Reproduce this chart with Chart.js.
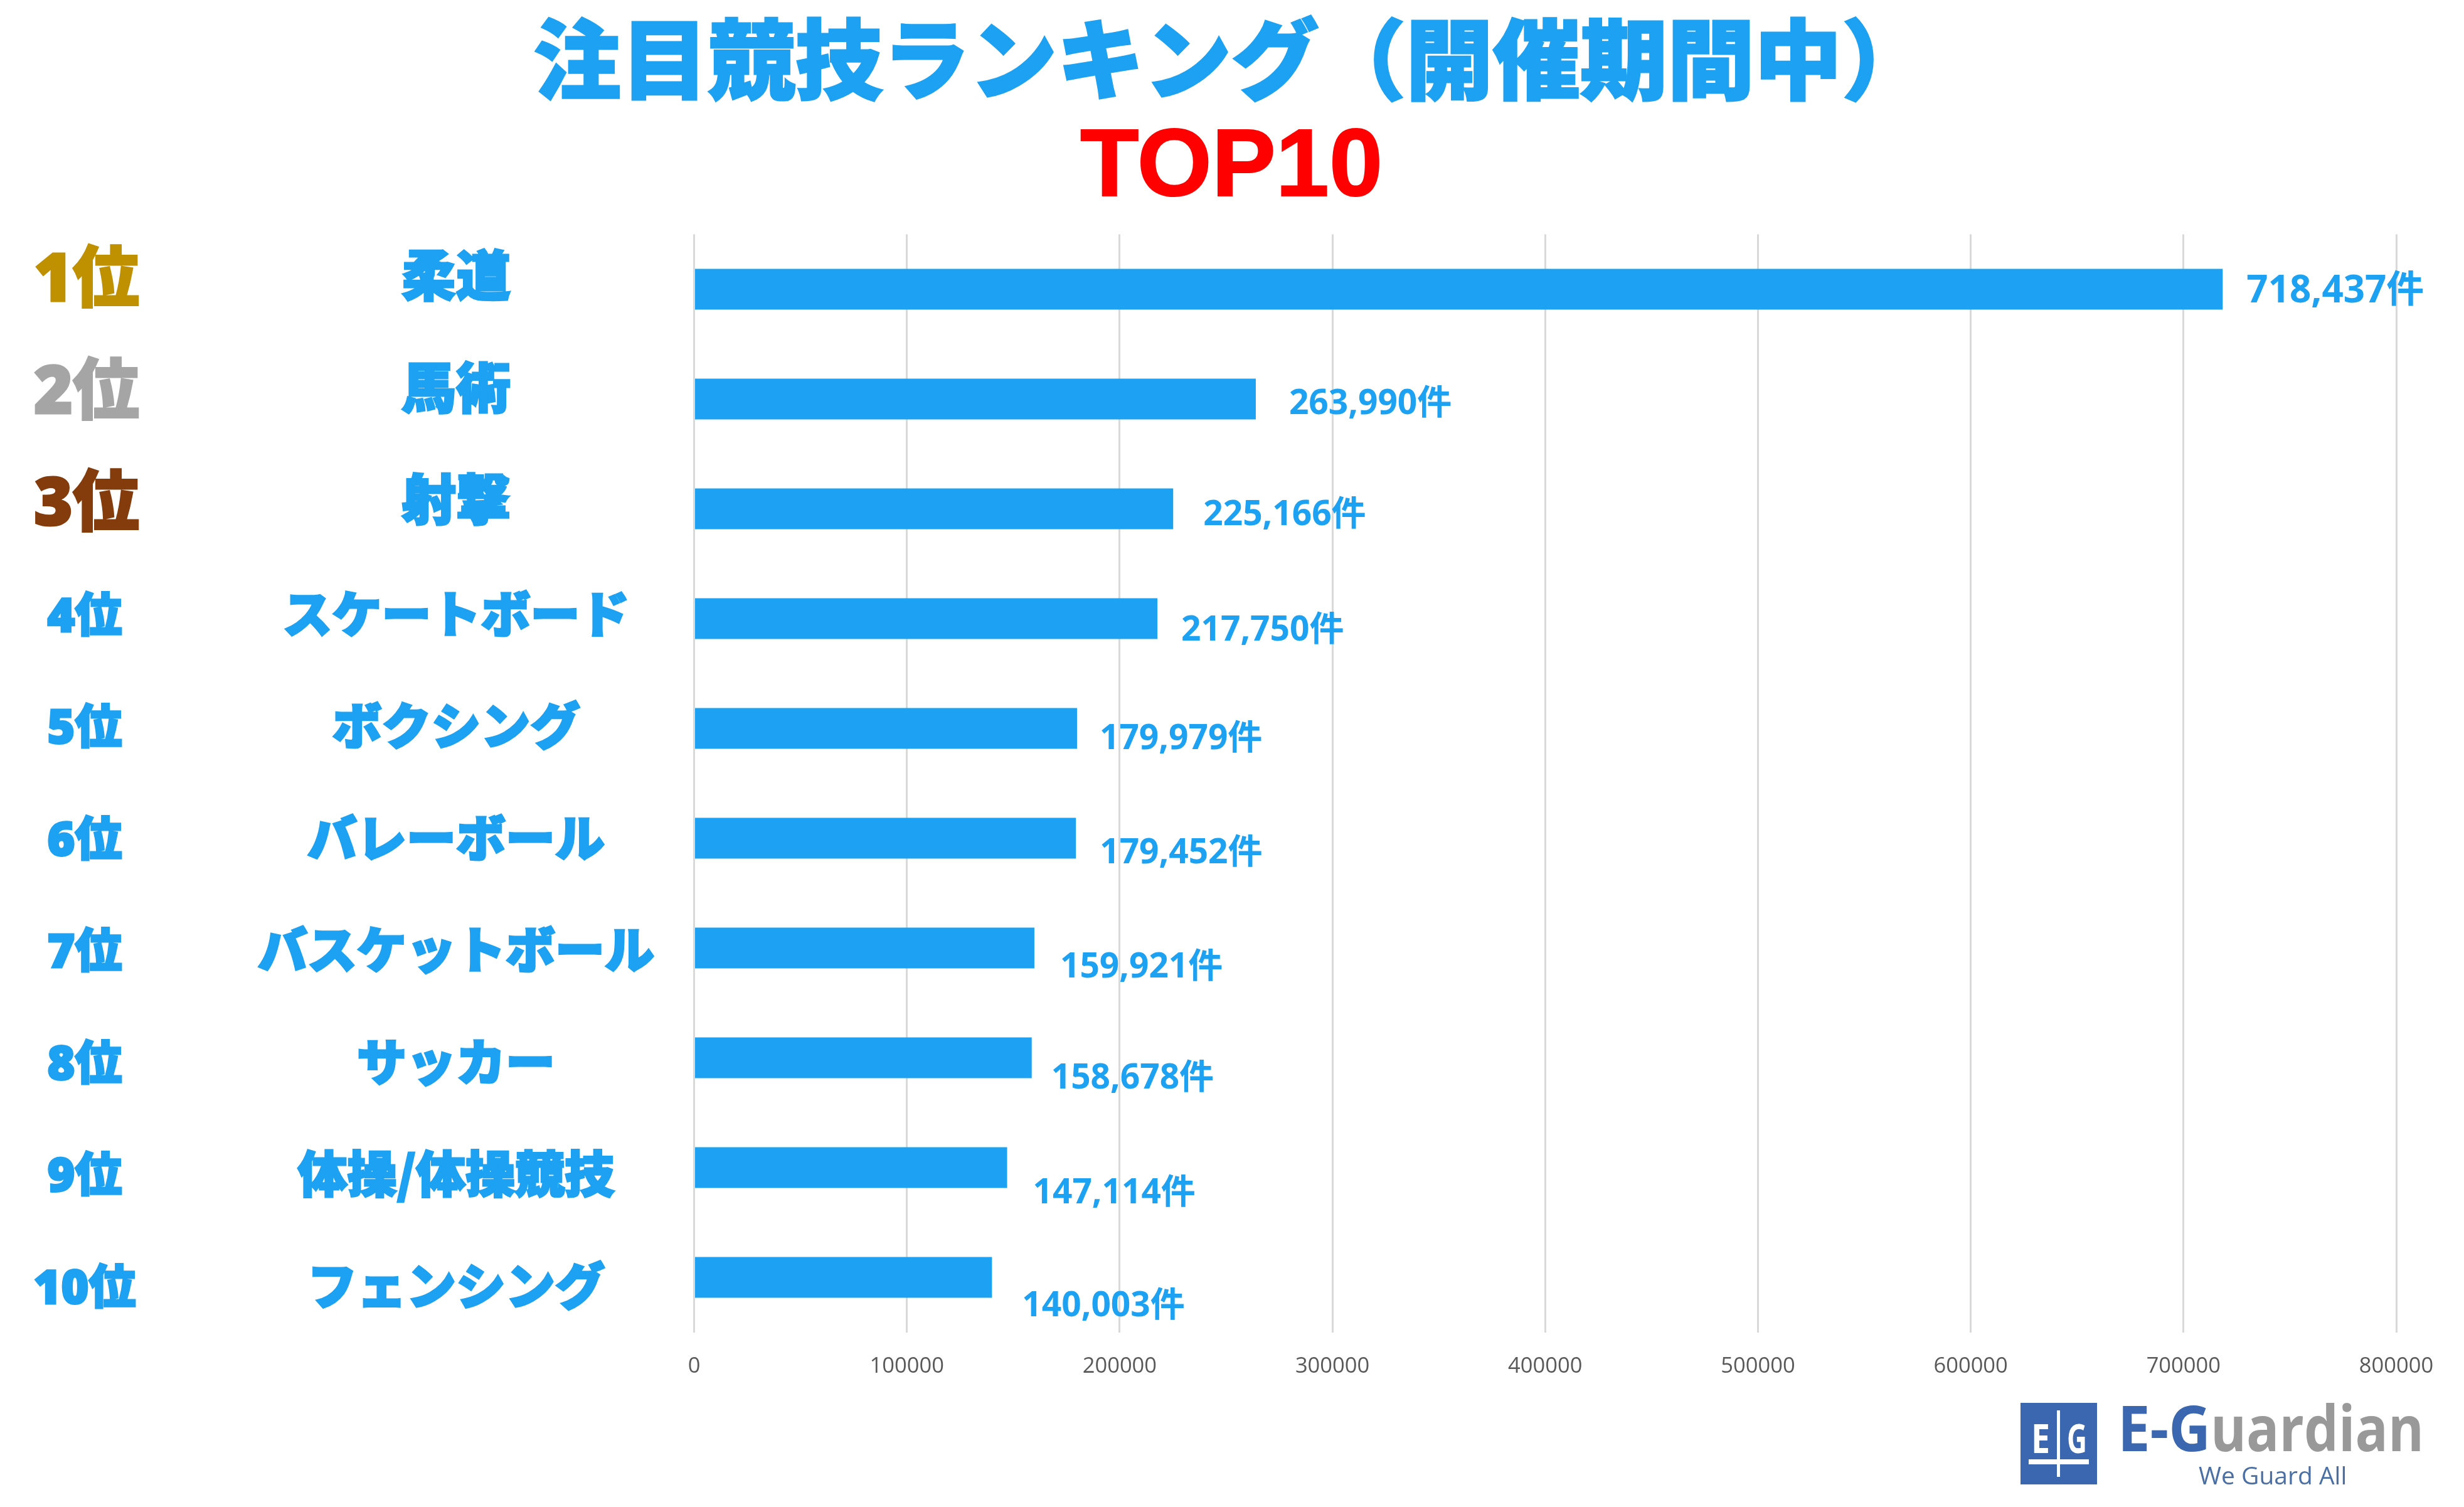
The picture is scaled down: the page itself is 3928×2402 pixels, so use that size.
<!DOCTYPE html>
<html lang="ja">
<head>
<meta charset="utf-8">
<title>注目競技ランキング（開催期間中）TOP10</title>
<script src="https://cdn.jsdelivr.net/npm/chart.js@4"></script>
<style>
    html, body { margin: 0; padding: 0; background: #fff; }
    canvas { display: block; }
</style>
</head>
<body>
<canvas id="rankingChart" width="3928" height="2402"></canvas>
<script>
// Chart data
var ranks = ['1位', '2位', '3位', '4位', '5位', '6位', '7位', '8位', '9位', '10位'];
var categories = ['柔道', '馬術', '射撃', 'スケートボード', 'ボクシング', 'バレーボール', 'バスケットボール', 'サッカー', '体操/体操競技', 'フェンシング'];
var counts = [718437, 263990, 225166, 217750, 179979, 179452, 159921, 158678, 147114, 140003];
var titleText = '注目競技ランキング（開催期間中）';
var subtitleText = 'TOP10';

// Label layout, the value labels sit by hand in the original so they drift off the bars
var labelOffsetX = [38, 53, 48, 38, 36, 38, 41, 31, 41, 48];
var labelOffsetY = [4, 8, 10, 19, 17, 24, 31, 33, 41, 46];
var rankColors = ['#BF9000', '#A5A5A5', '#843C0C'];

var BLUE = '#1DA1F2';
var JP_FONT = '"Noto Sans CJK JP"';
var NUM_FONT = '"Open Sans", "Noto Sans CJK JP"';
var HEADING_X = 1963;

function fatText(ctx, text, x, y, width) {
    ctx.lineJoin = 'miter';
    ctx.lineWidth = width;
    ctx.strokeStyle = ctx.fillStyle;
    ctx.strokeText(text, x, y);
    ctx.fillText(text, x, y);
}

// The heading is centred on the page area, not over the plot
var headingPlacer = {
    id: 'headingPlacer',
    afterLayout: function (chart) {
        chart.boxes.forEach(function (box) {
            var text = box.options && box.options.text;
            if (text === titleText || text === subtitleText) {
                box.left = HEADING_X - 1400;
                box.right = HEADING_X + 1400;
            }
        });
    }
};

// Thicken the heading, the original uses a much heavier face
var headingWeight = {
    id: 'headingWeight',
    afterDraw: function (chart) {
        var ctx = chart.ctx;
        ctx.save();
        ctx.textAlign = 'center';
        ctx.textBaseline = 'middle';
        ctx.lineJoin = 'miter';
        ctx.lineWidth = 3;
        ctx.strokeStyle = BLUE;
        ctx.font = '900 139px ' + JP_FONT;
        ctx.strokeText(titleText, HEADING_X, 94.5);
        ctx.lineWidth = 2;
        ctx.strokeStyle = '#FF0000';
        ctx.font = '700 153px "Liberation Sans"';
        ctx.strokeText(subtitleText, HEADING_X, 269.8);
        ctx.restore();
    }
};

// Rank and name columns on the left
var rowLabels = {
    id: 'rowLabels',
    afterDraw: function (chart) {
        var ctx = chart.ctx;
        ctx.save();
        ctx.textAlign = 'center';
        ctx.textBaseline = 'middle';
        for (var i = 0; i < ranks.length; i++) {
            var y = 443 + i * 178.5;
            ctx.fillStyle = i < 3 ? rankColors[i] : BLUE;
            ctx.font = '900 ' + (i < 3 ? 106 : 75) + 'px ' + NUM_FONT;
            fatText(ctx, ranks[i], i < 3 ? 138 : 135, y + 7, 3);
            ctx.fillStyle = BLUE;
            ctx.font = '900 ' + (i < 3 ? 87 : 79) + 'px ' + JP_FONT;
            fatText(ctx, categories[i], 727, i < 3 ? y - 4 : y, 3);
        }
        ctx.restore();
    }
};

// Value labels next to the bars, the leader gets a slightly bigger one
var valueLabels = {
    id: 'valueLabels',
    afterDatasetsDraw: function (chart) {
        var ctx = chart.ctx;
        var bars = chart.getDatasetMeta(0).data;
        ctx.save();
        ctx.fillStyle = BLUE;
        ctx.textAlign = 'left';
        ctx.textBaseline = 'middle';
        bars.forEach(function (bar, i) {
            ctx.font = '700 ' + (i === 0 ? 60 : 55) + 'px ' + NUM_FONT;
            ctx.fillText(counts[i].toLocaleString('en-US') + '件', bar.x + labelOffsetX[i], bar.y + labelOffsetY[i]);
        });
        ctx.restore();
    }
};

// Company logo, bottom right
var logo = {
    id: 'logo',
    afterDraw: function (chart) {
        var ctx = chart.ctx;
        ctx.save();
        ctx.fillStyle = '#3B66B0';
        ctx.fillRect(3221, 2236, 122, 130);
        ctx.fillStyle = '#fff';
        ctx.font = '700 64px "Open Sans"';
        ctx.textBaseline = 'alphabetic';
        ctx.textAlign = 'center';
        ctx.fillText('E', 3253, 2316, 30);
        ctx.fillText('G', 3311, 2316, 32);
        ctx.fillRect(3279, 2248, 5, 106);
        ctx.fillRect(3234, 2326, 96, 8);

        ctx.textAlign = 'left';
        ctx.font = '700 100px "Open Sans"';
        ctx.fillStyle = '#3B66B0';
        ctx.fillText('E-G', 3376, 2313, 148);
        ctx.fillStyle = '#999999';
        ctx.fillText('uardian', 3524, 2313, 340);
        ctx.fillStyle = '#4A6FA5';
        ctx.font = '400 39px "Open Sans"';
        ctx.fillText('We Guard All', 3505, 2366);
        ctx.restore();
    }
};

var ctx = document.getElementById('rankingChart').getContext('2d');
var rankingChart = new Chart(ctx, {
    type: 'bar',
    data: {
        labels: categories,
        datasets: [{
            data: counts,
            backgroundColor: BLUE,
            barPercentage: 0.371,
            categoryPercentage: 1
        }]
    },
    plugins: [headingPlacer, headingWeight, rowLabels, valueLabels, logo],
    options: {
        indexAxis: 'y',
        responsive: false,
        devicePixelRatio: 1,
        animation: false,
        layout: {
            padding: { left: 1106.5, right: 108 }
        },
        plugins: {
            legend: { display: false },
            tooltip: { enabled: false },
            title: {
                display: true,
                text: titleText,
                color: BLUE,
                font: { family: JP_FONT, size: 139, weight: '900', lineHeight: 1 },
                padding: { top: 25, bottom: 14 }
            },
            subtitle: {
                display: true,
                text: subtitleText,
                color: '#FF0000',
                font: { family: '"Liberation Sans"', size: 153, weight: '700', lineHeight: 1.2 },
                padding: { top: 0, bottom: 11.9 }
            }
        },
        scales: {
            x: {
                min: 0,
                max: 800000,
                grid: { color: '#D9D9D9', lineWidth: 3, drawTicks: false },
                border: { display: false },
                ticks: {
                    stepSize: 100000,
                    padding: 34,
                    maxRotation: 0,
                    color: '#595959',
                    font: { family: '"Open Sans"', size: 34.5 },
                    callback: function (value) { return String(value); }
                },
                afterFit: function (scale) { scale.height = 278.5; }
            },
            y: {
                reverse: false,
                display: false
            }
        }
    }
});
</script>
</body>
</html>
